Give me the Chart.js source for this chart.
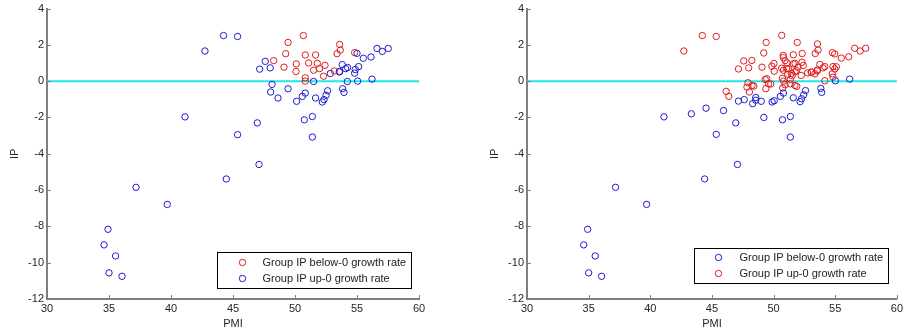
<!DOCTYPE html>
<html>
<head>
<meta charset="utf-8">
<script src="https://cdn.jsdelivr.net/npm/chart.js@4.4.0/dist/chart.umd.min.js"></script>
<style>
  body { margin: 0; background: #fff; width: 906px; height: 335px; overflow: hidden; position: relative; }
  .panel { position: absolute; top: 0; height: 335px; }
</style>
</head>
<body>
<div class="panel" style="left:0;width:440px"><canvas id="leftChart"></canvas></div>
<div class="panel" style="left:480px;width:426px"><canvas id="rightChart"></canvas></div>
<script>
// tick labels
var pmiTicks = [30, 35, 40, 45, 50, 55, 60];
var ipTicks = [-12, -10, -8, -6, -4, -2, 0, 2, 4];

// left panel: red = IP below-0 group, blue = IP up-0 group
var leftRedPMI = [49.44, 50.67, 49.25, 48.28, 49.11, 50.1, 50.08, 50.83, 51.66, 51.1, 51.8, 51.5, 51.98, 52.42, 52.3, 50.83, 50.83, 53.17, 53.6, 53.65, 53.39, 54.81];
var leftRedIP  = [2.13, 2.51, 1.51, 1.13, 0.77, 0.95, 0.53, 1.44, 1.44, 1.0, 0.98, 0.6, 0.69, 0.87, 0.27, 0.18, 0.0, 0.56, 2.02, 1.71, 1.51, 1.57];

var leftBluePMI = [42.74, 44.24, 45.37, 47.6, 47.15, 48.0, 48.15, 48.04, 48.63, 49.44, 50.13, 50.59, 50.83, 50.75, 51.4, 51.4, 51.5, 51.66, 52.2, 52.34,
                   52.5, 52.63, 52.85, 53.57, 53.81, 54.08, 54.24, 53.84, 53.95, 54.22, 54.81, 54.86, 55.0, 55.13, 55.05, 55.51, 56.13, 56.21, 56.61, 57.04,
                   57.52, 46.96, 45.37, 47.1, 41.13, 44.46, 37.18, 39.7, 34.92, 34.6, 35.53, 35.0, 36.05, 53.6];
var leftBlueIP  = [1.66, 2.51, 2.46, 1.09, 0.66, 0.73, -0.18, -0.6, -0.93, -0.42, -1.11, -0.84, -0.66, -2.13, -1.95, -3.08, -0.02, -0.93, -1.15, -1.02,
                   -0.78, -0.53, 0.42, 0.51, 0.91, 0.69, 0.75, -0.42, -0.62, -0.02, 0.44, 0.64, 1.53, 0.8, 0.0, 1.26, 1.33, 0.11, 1.8, 1.64,
                   1.8, -2.3, -2.95, -4.59, -1.97, -5.39, -5.85, -6.79, -8.16, -9.02, -9.63, -10.56, -10.75, 0.53];

// right panel: blue = IP below-0 group, red = IP up-0 group
var rightBluePMI = [56.17, 55.01, 53.83, 53.9, 52.59, 52.44, 52.27, 52.15, 51.6, 50.8, 50.55, 50.05, 49.88, 49.0, 48.55, 48.3, 48.55, 47.62, 47.15,
                    49.21, 50.72, 51.36, 51.36, 46.93, 45.94, 44.52, 43.33, 45.35, 47.07, 41.11, 44.41, 37.18, 39.7, 34.92, 34.6, 35.53, 35.0, 36.05];
var rightBlueIP  = [0.11, 0.02, -0.4, -0.62, -0.52, -0.76, -0.97, -1.13, -0.92, -0.66, -0.84, -1.08, -1.15, -1.11, -0.9, -1.24, -1.05, -1.02, -1.1,
                    -2.0, -2.13, -1.95, -3.08, -2.3, -1.62, -1.49, -1.8, -2.93, -4.59, -1.97, -5.39, -5.85, -6.79, -8.16, -9.02, -9.63, -10.56, -10.75];

var rightRedPMI = [42.72, 44.22, 45.35, 49.4, 50.66, 51.92, 49.2, 47.58, 48.24, 47.15, 47.98, 49.06, 50.03, 50.05, 50.78, 51.6, 51.08, 51.74, 52.32, 52.41,
                   53.56, 53.61, 53.38, 53.75, 54.77, 54.96, 55.09, 54.76, 55.49, 56.09, 56.58, 57.02, 57.47, 54.15, 53.53, 53.05, 52.76, 52.24, 51.74, 51.5,
                   51.36, 51.06, 50.8, 51.15, 50.72, 50.8, 51.34, 51.74, 51.88, 50.74, 49.32, 49.37, 49.77, 47.92, 48.4, 48.04, 46.15, 46.37, 50.93, 51.2,
                   51.6, 51.98, 52.3, 51.46, 51.86, 53.08, 53.56, 54.01, 54.15, 54.82, 54.82, 54.96, 49.86, 50.66, 49.59, 50.93, 53.35, 48.25, 47.84, 49.45, 50.8];
var rightRedIP  = [1.66, 2.51, 2.46, 2.13, 2.52, 2.13, 1.55, 1.11, 1.14, 0.67, 0.73, 0.77, 0.97, 0.55, 1.42, 1.45, 1.0, 0.98, 1.52, 0.86,
                   2.05, 1.71, 1.52, 0.92, 1.57, 1.5, 0.79, 0.4, 1.27, 1.34, 1.81, 1.66, 1.81, 0.02, 0.56, 0.5, 0.45, 0.31, 0.51, 0.3,
                   0.09, 0.69, 0.6, 0.38, 0.16, 0.0, -0.15, -0.24, -0.29, -0.38, 0.09, -0.42, -0.16, -0.09, -0.27, -0.6, -0.56, -0.84, 1.13, 0.67,
                   0.95, 0.77, 1.04, 0.42, 0.58, 0.49, 0.62, 0.73, 0.8, 0.8, 0.22, 0.67, 0.82, 0.71, -0.15, -0.2, 0.4, -0.24, -0.33, 0.13, 1.3];

// zero line
var zeroLinePMI = [30, 60];
var zeroLineIP = [0, 0];

var labelBelow = 'Group IP below-0 growth rate';
var labelUp = 'Group IP up-0 growth rate';

var RED = '#e01c1c';
var BLUE = '#1c1cd0';
var AXIS = '#7f7f7f';
var FONT = "'Liberation Sans', Arial, sans-serif";

function zip(xs, ys) {
  return xs.map(function (x, i) { return { x: x, y: ys[i] }; });
}

function circles(label, xs, ys, color) {
  return {
    type: 'scatter',
    label: label,
    data: zip(xs, ys),
    pointStyle: 'circle',
    pointRadius: 3.2,
    pointBorderWidth: 1,
    pointBorderColor: color,
    pointBackgroundColor: 'rgba(0,0,0,0)',
    borderColor: color,
    backgroundColor: 'rgba(0,0,0,0)'
  };
}

function zeroLine() {
  return {
    type: 'line',
    label: 'zero',
    data: zip(zeroLinePMI, zeroLineIP),
    borderColor: '#20e6e6',
    borderWidth: 2,
    pointRadius: 0,
    fill: false
  };
}

// inward tick marks like the original
var innerTicks = {
  id: 'innerTicks',
  afterDraw: function (chart) {
    var ctx = chart.ctx, a = chart.chartArea;
    var xs = chart.scales.x, ys = chart.scales.y;
    ctx.save();
    ctx.strokeStyle = AXIS;
    ctx.lineWidth = 1;
    ctx.beginPath();
    xs.ticks.forEach(function (t) {
      var px = Math.round(xs.getPixelForValue(t.value)) + 0.5;
      ctx.moveTo(px, a.bottom);
      ctx.lineTo(px, a.bottom - 4);
    });
    ys.ticks.forEach(function (t) {
      var py = Math.round(ys.getPixelForValue(t.value)) + 0.5;
      ctx.moveTo(a.left, py);
      ctx.lineTo(a.left + 4, py);
    });
    ctx.stroke();
    ctx.restore();
  }
};

// boxed legend inside the plot area, lower right
var boxLegend = {
  id: 'boxLegend',
  afterDraw: function (chart, args, opts) {
    var ctx = chart.ctx, a = chart.chartArea;
    var x = Math.round(a.right - opts.right - opts.width) + 0.5;
    var y = Math.round(a.bottom - opts.bottom - opts.height) + 0.5;
    ctx.save();
    ctx.fillStyle = '#fff';
    ctx.fillRect(x, y, opts.width, opts.height);
    ctx.strokeStyle = '#000';
    ctx.lineWidth = 1;
    ctx.strokeRect(x, y, opts.width, opts.height);
    ctx.font = '11px ' + FONT;
    ctx.textBaseline = 'middle';
    var items = chart.data.datasets.filter(function (d) { return d.type === 'scatter'; });
    items.forEach(function (d, i) {
      var ry = y + opts.rowTop + i * opts.rowGap;
      ctx.beginPath();
      ctx.strokeStyle = d.pointBorderColor;
      ctx.arc(x + opts.markerX, ry, 3.2, 0, Math.PI * 2);
      ctx.stroke();
      ctx.fillStyle = '#222';
      ctx.fillText(d.label, x + opts.textX, ry);
    });
    ctx.restore();
  }
};

function makeOptions(rightPad, legendOpts) {
  return {
    responsive: true,
    maintainAspectRatio: false,
    animation: false,
    layout: { padding: { left: 0, right: rightPad, top: 0, bottom: 0 } },
    plugins: {
      legend: { display: false },
      tooltip: { enabled: false },
      boxLegend: legendOpts
    },
    scales: {
      x: {
        type: 'linear',
        min: 30,
        max: 60,
        afterBuildTicks: function (s) { s.ticks = pmiTicks.map(function (v) { return { value: v }; }); },
        afterFit: function (s) { s.height = 36; },
        grid: { display: false, drawTicks: false },
        border: { display: true, color: AXIS, width: 2 },
        ticks: { color: '#262626', padding: 3, maxRotation: 0, font: { family: FONT, size: 11 } },
        title: { display: true, text: 'PMI', color: '#262626', padding: { top: 0, bottom: 4 }, font: { family: FONT, size: 11 } }
      },
      y: {
        type: 'linear',
        min: -12,
        max: 4,
        afterBuildTicks: function (s) { s.ticks = ipTicks.map(function (v) { return { value: v }; }); },
        afterFit: function (s) { s.width = 47; },
        grid: { display: false, drawTicks: false },
        border: { display: true, color: AXIS, width: 2 },
        ticks: { color: '#262626', padding: 3, font: { family: FONT, size: 11, lineHeight: 1 } },
        title: { display: true, text: 'IP', color: '#262626', padding: { top: 8, bottom: 0 }, font: { family: FONT, size: 11 } }
      }
    }
  };
}

new Chart(document.getElementById('leftChart'), {
  data: {
    datasets: [
      circles(labelBelow, leftRedPMI, leftRedIP, RED),
      circles(labelUp, leftBluePMI, leftBlueIP, BLUE),
      zeroLine()
    ]
  },
  options: makeOptions(21, { right: 8, bottom: 11, width: 194, height: 36, markerX: 25, textX: 45, rowTop: 10, rowGap: 16 }),
  plugins: [innerTicks, boxLegend]
});

new Chart(document.getElementById('rightChart'), {
  data: {
    datasets: [
      circles(labelBelow, rightBluePMI, rightBlueIP, BLUE),
      circles(labelUp, rightRedPMI, rightRedIP, RED),
      zeroLine()
    ]
  },
  options: makeOptions(7, { right: 9, bottom: 16, width: 194, height: 35, markerX: 24, textX: 45, rowTop: 9, rowGap: 16 }),
  plugins: [innerTicks, boxLegend]
});
</script>
</body>
</html>
